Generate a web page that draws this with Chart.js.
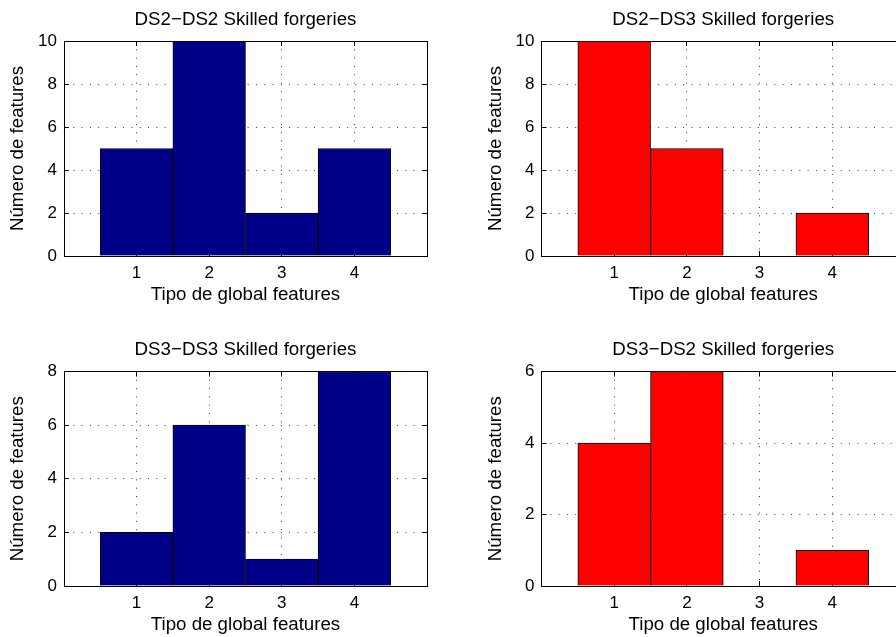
<!DOCTYPE html>
<html>
<head>
<meta charset="utf-8">
<script src="https://cdn.jsdelivr.net/npm/chart.js@4.4.1/dist/chart.umd.min.js"></script>
<style>
  html, body { margin: 0; padding: 0; background: #fff; overflow: hidden; }
  body { width: 896px; height: 637px; position: relative; }
  canvas { position: absolute; }
</style>
</head>
<body>
<canvas id="g1"></canvas>
<canvas id="g2"></canvas>
<canvas id="g3"></canvas>
<canvas id="g4"></canvas>
<script>
// tipos de global features (eixo x)
const tipos = [1, 2, 3, 4];

// número de features por tipo, em cada combinação de bases
const ds2ds2 = [5, 10, 2, 5];
const ds2ds3 = [10, 5, 0, 2];
const ds3ds3 = [2, 6, 1, 8];
const ds3ds2 = [4, 6, 0, 1];

const titulos = [
  "DS2\u2212DS2 Skilled forgeries",
  "DS2\u2212DS3 Skilled forgeries",
  "DS3\u2212DS3 Skilled forgeries",
  "DS3\u2212DS2 Skilled forgeries",
];
const tituloX = "Tipo de global features";
const tituloY = "Número de features";
const maxY = [10, 10, 8, 6];

const AZUL = "#000088";
const VERMELHO = "#ff0000";

Chart.defaults.font.family = "'Liberation Sans', Arial, Helvetica, sans-serif";
Chart.defaults.color = "#000";

const TAM_TICK = 17;
const TAM_TEXTO = 18.7;
const LH = 1.2;

// caixa do canvas [x, y, w, h] e área do gráfico [esq, dir, topo, base]
const paineis = [
  { id: "g1", valores: ds2ds2, cor: AZUL, caixa: [0, 0, 450, 330], area: [64, 427, 41, 256] },
  { id: "g2", valores: ds2ds3, cor: VERMELHO, caixa: [450, 0, 470, 330], area: [541.5, 905, 41, 256] },
  { id: "g3", valores: ds3ds3, cor: AZUL, caixa: [0, 330, 450, 307], area: [64, 427, 371.5, 586] },
  { id: "g4", valores: ds3ds2, cor: VERMELHO, caixa: [450, 330, 470, 307], area: [541.5, 905, 371.5, 586] },
];

// estilo comum dos eixos: borda preta, grade pontilhada, ticks para dentro
const gradeBase = {
  color: "#3a3a3a",
  lineWidth: 1,
  offset: false,
  drawTicks: true,
  tickLength: -5,
  tickColor: "#000",
  tickWidth: 1,
};
const bordaBase = { display: true, color: "#000", width: 1, dash: [1, 7.3] };

const criaPainel = (p, i) => {
  const [cx, cy, cw, ch] = p.caixa;
  const [esq, dir, topo, base] = p.area;
  const canvas = document.getElementById(p.id);
  canvas.width = cw;
  canvas.height = ch;
  canvas.style.left = cx + "px";
  canvas.style.top = cy + "px";

  const lhTexto = TAM_TEXTO * LH;
  const lhTick = TAM_TICK * LH;
  const centroTitulo = topo - 21.3 - cy;
  const padTituloTopo = centroTitulo - lhTexto / 2;
  const padTituloBase = (topo - cy) - padTituloTopo - lhTexto;

  const larguraY = esq - cx;
  const alturaX = cy + ch - base;

  return new Chart(canvas, {
    type: "bar",
    data: {
      datasets: [
        {
          data: tipos.map((t, k) => ({ x: t, y: p.valores[k] })),
          backgroundColor: p.cor,
          borderColor: "#000",
          borderWidth: 1,
          barPercentage: 1,
          categoryPercentage: 1,
        },
      ],
    },
    options: {
      responsive: false,
      animation: false,
      devicePixelRatio: 1,
      layout: { padding: { left: 0, right: cx + cw - dir, top: 0, bottom: 0 } },
      plugins: {
        legend: { display: false },
        tooltip: { enabled: false },
        title: {
          display: true,
          text: titulos[i],
          fullSize: false,
          color: "#000",
          font: { size: TAM_TEXTO, weight: "normal", lineHeight: LH },
          padding: { top: padTituloTopo, bottom: padTituloBase },
        },
      },
      scales: {
        x: {
          type: "linear",
          position: "bottom",
          offset: false,
          min: 0,
          max: 5,
          grid: { ...gradeBase },
          border: { ...bordaBase },
          ticks: {
            stepSize: 1,
            autoSkip: false,
            maxRotation: 0,
            padding: 5 + 17 - lhTick / 2,
            font: { size: TAM_TICK, lineHeight: LH },
            callback: (v) => (v >= 1 && v <= 4 ? v : ""),
          },
          title: {
            display: true,
            text: tituloX,
            font: { size: TAM_TEXTO, lineHeight: LH },
            padding: { top: 0, bottom: alturaX - 38.5 - lhTexto / 2 },
          },
          afterFit: (s) => { s.height = alturaX; },
        },
        x2: {
          type: "linear",
          position: "top",
          offset: false,
          min: 0,
          max: 5,
          grid: { ...gradeBase, drawOnChartArea: false },
          border: { ...bordaBase },
          ticks: { stepSize: 1, display: false },
          afterFit: (s) => { s.height = 0; },
        },
        y: {
          type: "linear",
          position: "left",
          min: 0,
          max: maxY[i],
          grid: { ...gradeBase },
          border: { ...bordaBase },
          ticks: {
            stepSize: 2,
            padding: 12,
            font: { size: TAM_TICK, lineHeight: LH },
          },
          title: {
            display: true,
            text: tituloY,
            font: { size: TAM_TEXTO, lineHeight: LH },
            padding: { top: larguraY - 46 - lhTexto / 2, bottom: 0 },
          },
          afterFit: (s) => { s.width = larguraY; },
        },
        y2: {
          type: "linear",
          position: "right",
          min: 0,
          max: maxY[i],
          grid: { ...gradeBase, drawOnChartArea: false },
          border: { ...bordaBase },
          ticks: { stepSize: 2, display: false },
          afterFit: (s) => { s.width = 0; },
        },
      },
    },
  });
};

paineis.forEach(criaPainel);
</script>
</body>
</html>
